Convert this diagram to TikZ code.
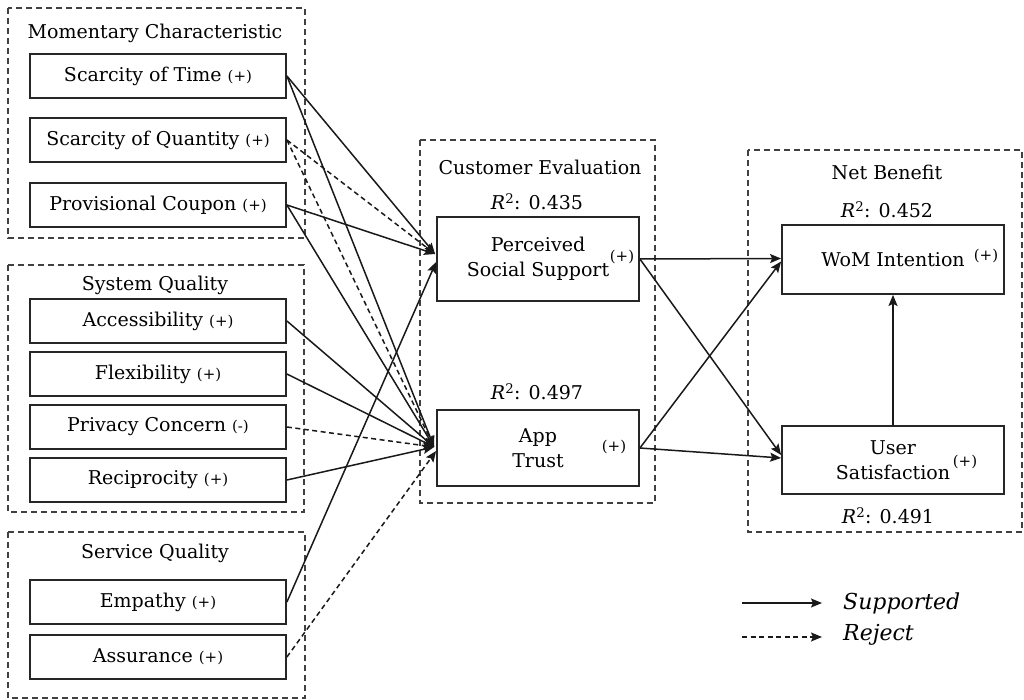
\documentclass[tikz,border=0pt]{standalone}
\usepackage{fontspec}
\setmainfont{DejaVu Serif}
\usetikzlibrary{arrows.meta,calc}
\newcommand\plusmark{{\fontsize{15}{18}\selectfont(+)}}
\newcommand\minusmark{{\fontsize{15}{18}\selectfont(-)}}
\newcommand\rsq[1]{{\itshape R}\textsuperscript{2}: #1}
\begin{document}
\begin{tikzpicture}[x=1pt,y=-1pt,
  txt/.style={font=\fontsize{19}{25}\selectfont, inner sep=0pt, align=center},
  box/.style={txt, draw=black!85, line width=1.8pt},
  leftbox/.style={box, minimum width=256pt, minimum height=44pt},
  midbox/.style={box, minimum width=202pt},
  rightbox/.style={box, minimum width=222pt},
  grp/.style={draw=black!75, line width=1.5pt, dash pattern=on 6pt off 4pt},
  signmark/.style={inner sep=0pt},
  sup/.style={-{Stealth[length=11pt,width=9pt,inset=2pt]}, line width=1.5pt, draw=black!90},
  rej/.style={sup, dash pattern=on 5pt off 3.5pt},
  legtxt/.style={font=\fontsize{22}{26}\selectfont\itshape, inner sep=0pt, anchor=west}]
\useasboundingbox (0,0) rectangle (1024,700);

% ---- group frames ----
\draw[grp] (8,8) rectangle (305,238);
\draw[grp] (8,265) rectangle (304,512);
\draw[grp] (8,532) rectangle (305,698);
\draw[grp] (420,140) rectangle (655,503);
\draw[grp] (748,150) rectangle (1022,532);

% ---- group titles ----
\node[txt] (tmc) at (155,33) {Momentary Characteristic};
\node[txt] (tsq) at (155,285) {System Quality};
\node[txt] (tsv) at (155,553) {Service Quality};
\node[txt] (tce) at (540,167) {Customer Evaluation};
\node[txt] (tnb) at (887,172) {Net Benefit};

% ---- antecedents ----
\node[leftbox] (st)   at (158,76)  {Scarcity of Time \plusmark};
\node[leftbox] (sq)   at (158,140) {Scarcity of Quantity \plusmark};
\node[leftbox] (pc)   at (158,205) {Provisional Coupon \plusmark};
\node[leftbox] (acc)  at (158,321) {Accessibility \plusmark};
\node[leftbox] (flex) at (158,374) {Flexibility \plusmark};
\node[leftbox] (priv) at (158,427) {Privacy Concern \minusmark};
\node[leftbox] (rec)  at (158,480) {Reciprocity \plusmark};
\node[leftbox] (emp)  at (158,602) {Empathy \plusmark};
\node[leftbox] (asr)  at (158,657) {Assurance \plusmark};

% ---- customer evaluation ----
\node[txt] (r1) at (537,202) {\rsq{0.435}};
\node[midbox, minimum height=84pt] (pss) at (538,259) {Perceived\\Social Support};
\node[signmark] (pssm) at (622,257) {\plusmark};
\node[txt] (r2) at (537,392) {\rsq{0.497}};
\node[midbox, minimum height=76pt] (at) at (538,448) {App\\Trust};
\node[signmark] (atm) at (614,447) {\plusmark};

% ---- net benefit ----
\node[txt] (r3) at (887,210) {\rsq{0.452}};
\node[rightbox, minimum height=69pt] (wom) at (893,259.5) {WoM Intention};
\node[signmark] (womm) at (986,256) {\plusmark};
\node[rightbox, minimum height=68pt] (us) at (893,460) {User\\Satisfaction};
\node[signmark] (usm) at (965,462) {\plusmark};
\node[txt] (r4) at (888,516) {\rsq{0.491}};

% ---- arrow targets ----
\coordinate (pssin)  at ($(pss.west)+(-1,-5)$);
\coordinate (pssin2) at ($(pss.west)+(0,3)$);
\coordinate (atin)   at ($(at.west)+(-2,-1)$);
\coordinate (atin2)  at ($(at.west)+(0,3)$);

% ---- paths into customer evaluation ----
\draw[sup] (st.east) -- (pssin);
\draw[sup] (st.east) -- (atin);
\draw[rej] (sq.east) -- (pssin);
\draw[rej] (sq.east) -- (atin);
\draw[sup] (pc.east) -- (pssin);
\draw[sup] (pc.east) -- (atin);
\draw[sup] (acc.east) -- (atin);
\draw[sup] (flex.east) -- (atin);
\draw[rej] (priv.east) -- (atin);
\draw[sup] (rec.east) -- (atin);
\draw[sup] (emp.east) -- (pssin2);
\draw[rej] (asr.east) -- (atin2);

% ---- paths into net benefit ----
\draw[sup] (pss.east) -- ($(wom.west)+(0,-1)$);
\draw[sup] (pss.east) -- ($(us.west)+(0,-5)$);
\draw[sup] (at.east) -- ($(wom.west)+(0,2)$);
\draw[sup] (at.east) -- ($(us.west)+(0,-2)$);
\draw[sup] (us.north) -- (wom.south);

% ---- legend ----
\coordinate (l1a) at (742,603);
\coordinate (l1b) at (822,603);
\coordinate (l2a) at (742,637);
\coordinate (l2b) at (822,637);
\draw[sup] (l1a) -- (l1b);
\draw[rej] (l2a) -- (l2b);
\node[legtxt] (lsup) at (843,603) {Supported};
\node[legtxt] (lrej) at (843,635) {Reject};
\end{tikzpicture}
\end{document}
